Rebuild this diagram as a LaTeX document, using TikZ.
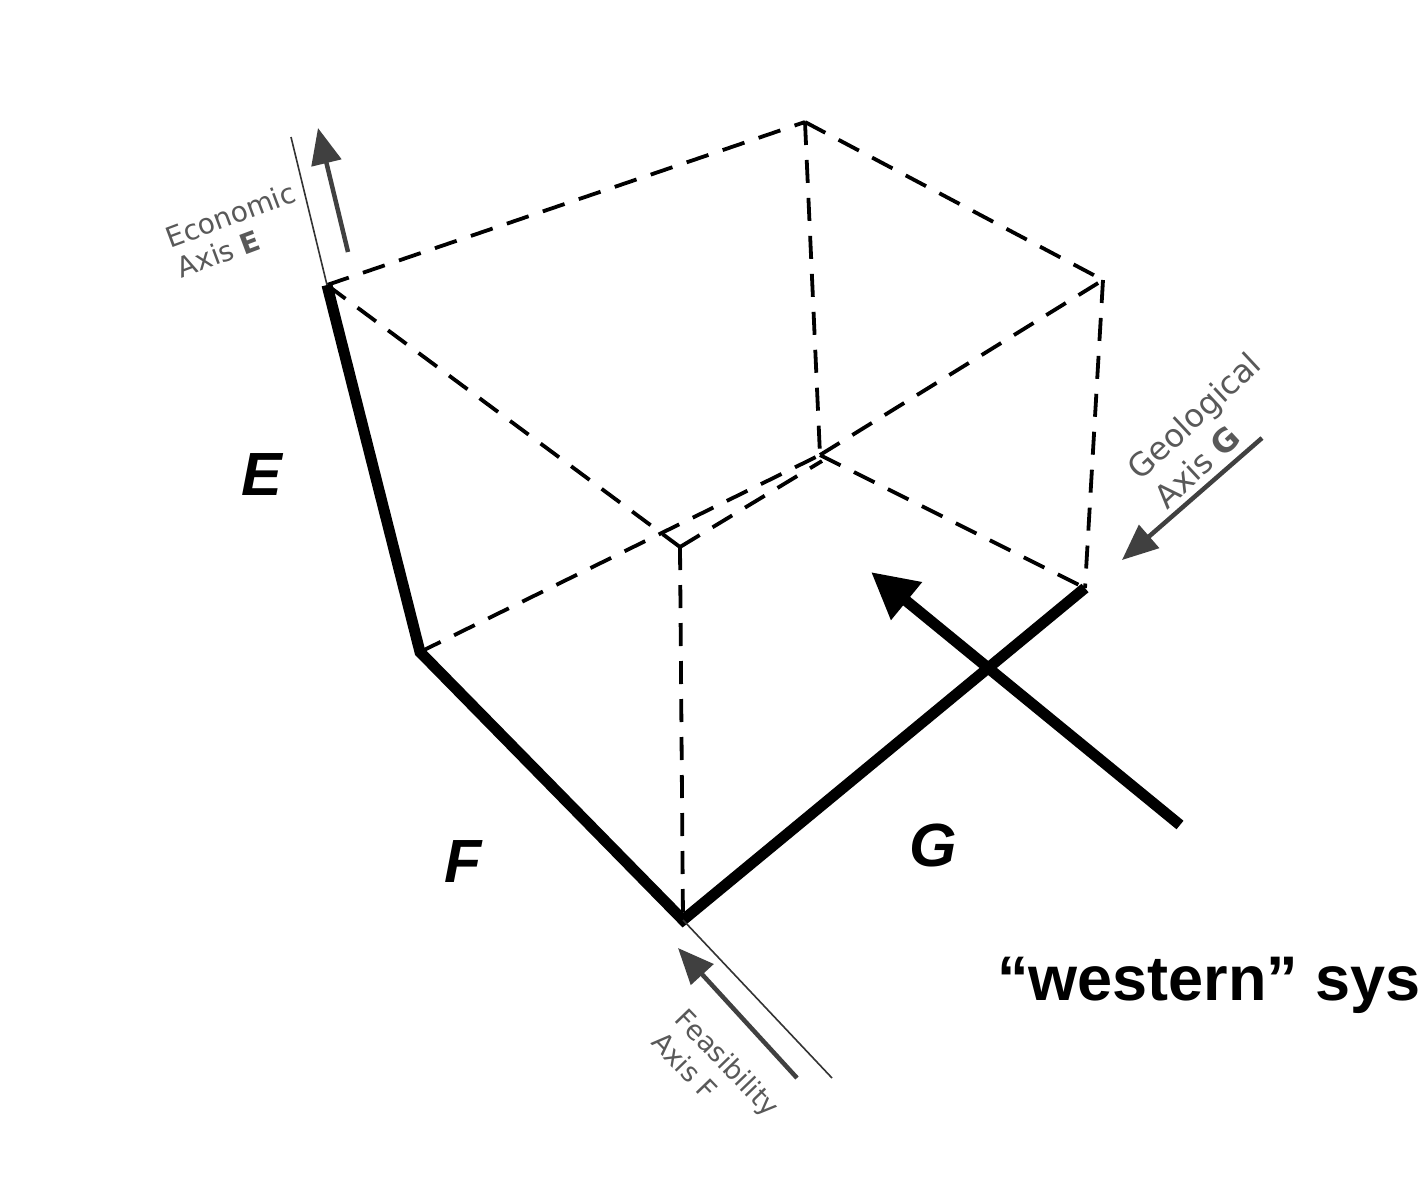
\documentclass[tikz,border=0pt]{standalone}
\usepackage{fontspec}
\setmainfont{Liberation Sans}
\newfontfamily\axisfont{DejaVu Sans}
\usetikzlibrary{arrows.meta}
\begin{document}
\begin{tikzpicture}[x=1pt,y=-1pt,
  thickedge/.style={line width=11pt, line join=miter},
  dashedge/.style={line width=3.8pt, dash pattern=on 23pt off 15pt},
  axisline/.style={line width=1.6pt, black!80},
  axisarrow/.style={line width=4.5pt, black!75, -{Triangle[length=36pt,width=30pt]}},
  axislabel/.style={text=black!65, inner sep=0pt, align=left},
  biglabel/.style={font=\fontsize{61}{70}\selectfont\bfseries\itshape, inner sep=0pt},
  bigarrow/.style={line width=11pt, -{Triangle[length=46pt,width=46pt]}}
]
\useasboundingbox[fill=white] (0,0) rectangle (1427,1184);
% cube vertices
\coordinate (A) at (327,285);
\coordinate (B) at (420,652);
\coordinate (C) at (683,920);
\coordinate (D) at (1085,588);
\coordinate (T) at (805,122);
\coordinate (R) at (1103,280);
\coordinate (M) at (820,455);
\coordinate (M2) at (822,461);
\coordinate (N) at (680,547);
% dashed edges
\draw[dashedge] (A) -- (T);
\draw[dashedge] (T) -- (R);
\draw[dashedge] (T) -- (M);
\draw[dashedge] (R) -- (D);
\draw[dashedge] (M) -- (R);
\draw[dashedge] (M) -- (D);
\draw[dashedge] (A) -- (N);
\draw[dashedge] (B) -- (M);
\draw[dashedge] (N) -- (M2);
\draw[dashedge] (N) -- (C);
% thick edges
\draw[thickedge] (A) -- (B) -- (C) -- (D);
% economic axis
\coordinate (eTop) at (291,137);
\coordinate (eS) at (348,252);
\coordinate (eT) at (318,128);
\draw[axisline] (eTop) -- (A);
\draw[axisarrow] (eS) -- (eT);
\node[axislabel, rotate=20.5, font=\axisfont\fontsize{28}{32}\selectfont] (econ) at (236,230) {Economic\\Axis \textbf{E}};
% geological axis
\coordinate (gS) at (1262,438);
\coordinate (gT) at (1122,560);
\draw[axisarrow] (gS) -- (gT);
\node[axislabel, rotate=43, font=\axisfont\fontsize{32}{39}\selectfont] (geo) at (1207,430) {Geological\\Axis \textbf{G}};
% feasibility axis
\coordinate (fEnd) at (832,1078);
\coordinate (fS) at (797,1078);
\coordinate (fT) at (678,948);
\draw[axisline] (C) -- (fEnd);
\draw[axisarrow] (fS) -- (fT);
\node[axislabel, rotate=-46, font=\axisfont\fontsize{27}{33}\selectfont] (fea) at (716,1074) {Feasibility\\Axis F};
% big labels
\node[biglabel] (lE) at (262,475) {E};
\node[biglabel] (lF) at (463,862) {F};
\node[biglabel] (lG) at (933,845) {G};
% big arrow
\coordinate (bS) at (1180,825);
\coordinate (bT) at (871,572);
\draw[bigarrow] (bS) -- (bT);
\node[font=\fontsize{63}{70}\selectfont\bfseries, inner sep=0pt, anchor=base west] (west) at (997,1000) {“western” sys};
\end{tikzpicture}
\end{document}
